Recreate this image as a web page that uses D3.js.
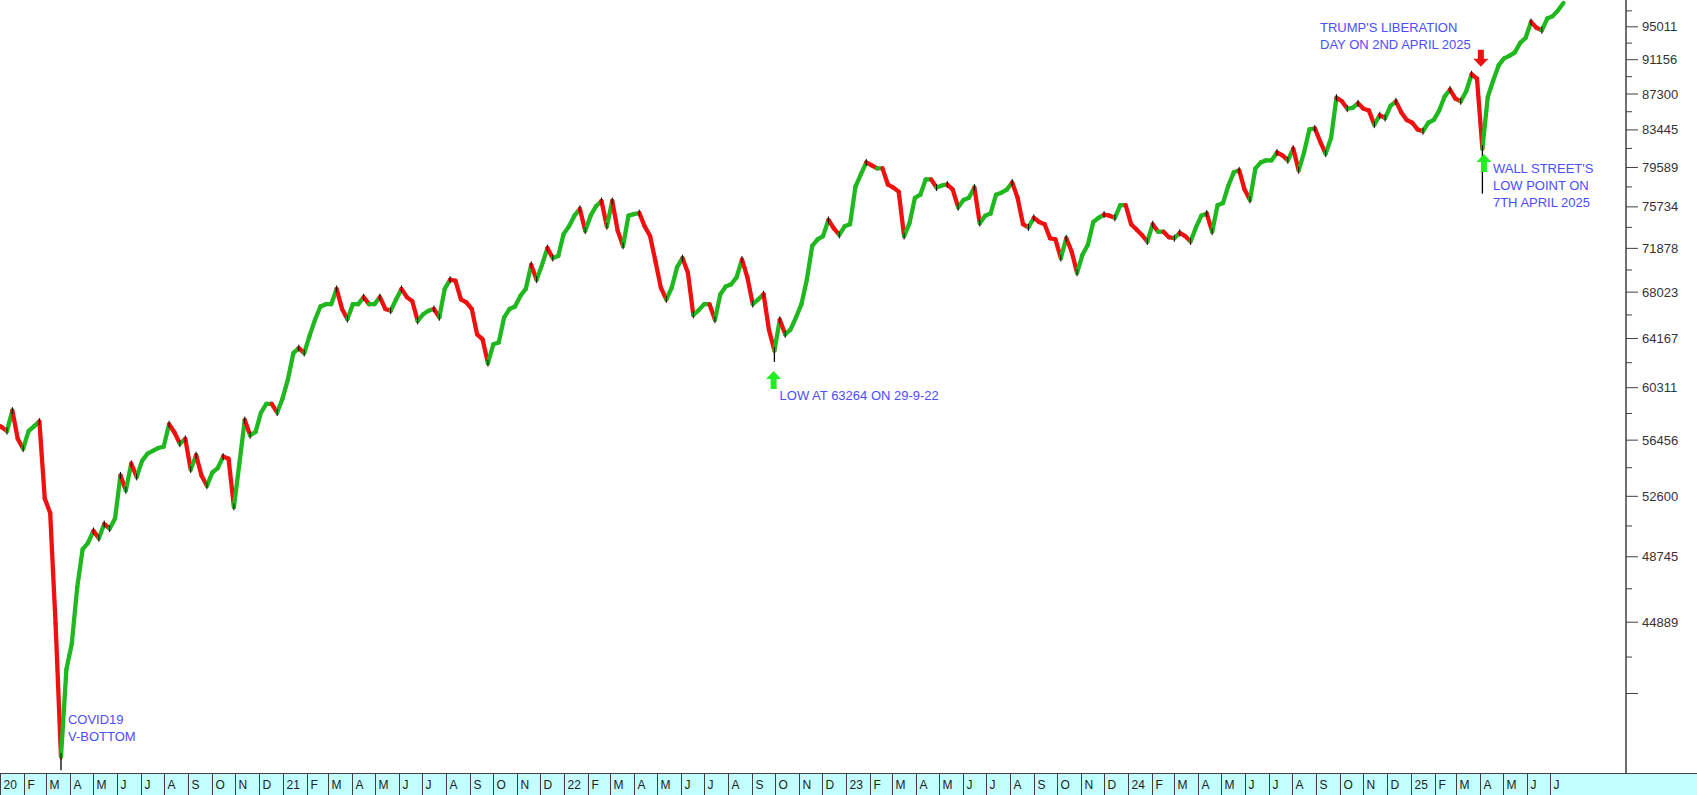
<!DOCTYPE html>
<html><head><meta charset="utf-8">
<script src="https://cdn.jsdelivr.net/npm/d3@7"></script>
<style>
html,body{margin:0;padding:0;background:#fff;overflow:hidden}
svg{display:block}
text{font-family:"Liberation Sans",Arial,sans-serif}
</style></head><body>
<svg id="chart" width="1697" height="795"></svg>
<script>
// ---------- DATA (weekly closes, week ending Friday) ----------
const firstWeek = "2020-01-03";
const firstOpen = 57600;
const closes2020 = [57400,57100,58600,56550,55850,57100,57450,57800,52450,51500,44800,37900,42300,43700,46900,49200,49600,50360,49900,50800,50500,51150,54000,53000,54800,53900,55000,55500,55700,55900,56000,57600,57000,56200,56550,54400,55400,54000,53300,54200,54500,55300,55150,51900,54800,57900,56800,57050,58450,59100,59100,58450,59500];
const closes2021 = [60970,63000,63400,63000,64400,65700,66800,67000,67000,68300,66600,65750,67000,67000,67600,67000,67000,67600,66600,66450,67400,68300,67600,67250,65600,66150,66450,66600,65900,68300,69100,69000,67400,67150,66600,64500,64100,62200,63700,63850,65900,66600,66800,67700,68300,70400,69100,70400,71900,71000,71200,73200];
const closes2022 = [73900,74900,75550,73500,74900,75800,76300,73900,76300,73500,72100,74900,75050,75150,73900,73000,70700,68400,67400,68400,70200,71000,69700,66100,66500,67000,67000,65700,67850,68500,68700,69300,70880,69300,67000,67400,67850,64850,63200,65700,64500,64900,65900,67000,69100,72100,72700,73000,74500,73700,73100,73900];
const closes2023 = [74100,77700,78900,80100,79800,79500,79500,77900,77600,77200,73000,74200,76600,76900,78400,78400,77600,77800,77900,77400,75700,76400,76600,77600,74200,74900,75100,76900,77100,77400,78100,76600,74100,73800,74700,74300,74100,72800,72700,71000,72800,71600,69700,71300,72200,74300,74700,75000,74900,74700,75900,75900];
const closes2024 = [74100,73600,73100,72500,74100,73400,73400,72900,72800,73300,73000,72500,73800,74900,75100,73400,75900,76100,77800,79100,79300,77400,76400,79500,80100,80300,80300,81100,80800,80300,81500,79300,81100,83500,83600,82200,81000,82600,86900,86500,85700,85800,86300,85700,85500,84000,85000,84700,86000,86500,85300,84500];
const closes2025 = [84200,83500,83300,84200,84500,85500,87000,87800,86800,86500,87600,89500,89000,81500,87000,88800,90500,91300,91600,92000,93100,93700,95600,94900,94600,96000,96300,97000,97900];
const spikeWeeks = [11, 143, 274];
const spikeLows  = [37250, 62300, 77000];

const yTickValues = [95011,91156,87300,83445,79589,75734,71878,68023,64167,60311,56456,52600,48745,44889,41034];
const yTickLabels = ["95011","91156","87300","83445","79589","75734","71878","68023","64167","60311","56456","52600","48745","44889",""];
const yMinorTicks = [96939,93083,89228,85372,81517,77661,73806,69950,66095,62239,58383,54528,50672,46817,42961];
const monthLetters = ["J","F","M","A","M","J","J","A","S","O","N","D"];

// ---------- LAYOUT ----------
const W = 1697, H = 795, plotRight = 1626, bandTop = 773;
const svg = d3.select("#chart");
const parse = d3.timeParse("%Y-%m-%d");

const x = d3.scaleTime().domain([new Date(2020,0,1), new Date(2025,9,7)]).range([0, plotRight]);
const y = d3.scaleLog().domain([95011, 44889]).range([26.8, 622.2]);

const closes = [].concat(closes2020, closes2021, closes2022, closes2023, closes2024, closes2025);
const start = parse(firstWeek);
const bars = closes.map((c, i) => {
  const fri = d3.timeDay.offset(start, 7 * i);
  return {i, date: fri, prevDate: d3.timeDay.offset(fri, -7), open: i === 0 ? firstOpen : closes[i-1], close: c};
});

// ---------- BARS (weekly moves drawn as thick up/down strokes) ----------
const g = svg.append("g");
spikeWeeks.forEach((wk, k) => {
  const b = bars[wk];
  g.append("line")
    .attr("x1", x(b.date)).attr("x2", x(b.date))
    .attr("y1", y(b.close)).attr("y2", y(spikeLows[k]))
    .attr("stroke", "#000").attr("stroke-width", 1.3);
});
g.selectAll("line.bar").data(bars).join("line")
  .attr("class", "bar")
  .attr("x1", d => x(d.prevDate)).attr("y1", d => y(d.open))
  .attr("x2", d => x(d.date)).attr("y2", d => y(d.close))
  .attr("stroke", d => d.close >= d.open ? "#1fb81f" : "#f01010")
  .attr("stroke-width", 4.3)
  .attr("stroke-linecap", "round");
// dark edge marks at the weekly turning points
g.selectAll("line.tick").data(bars.filter((d, i) => i > 0 && i < bars.length - 1 &&
    ((d.close - d.open) * (closes[i+1] - d.close) < 0)))
  .join("line")
  .attr("x1", d => x(d.date)).attr("x2", d => x(d.date))
  .attr("y1", d => y(d.close) - 3.5).attr("y2", d => y(d.close) + 3.5)
  .attr("stroke", "#111").attr("stroke-width", 1);

// ---------- Y AXIS ----------
svg.append("line").attr("x1", plotRight).attr("x2", plotRight).attr("y1", 0).attr("y2", bandTop)
  .attr("stroke", "#404040").attr("stroke-width", 1.5);
yTickValues.forEach((v, k) => {
  svg.append("line").attr("x1", plotRight).attr("x2", plotRight + 12)
    .attr("y1", y(v)).attr("y2", y(v)).attr("stroke", "#404040").attr("stroke-width", 1);
  svg.append("text").attr("x", plotRight + 16).attr("y", y(v)).attr("dy", "0.35em")
    .attr("font-size", 13).attr("fill", "#333").text(yTickLabels[k]);
});
yMinorTicks.forEach(v => {
  svg.append("line").attr("x1", plotRight).attr("x2", plotRight + 6)
    .attr("y1", y(v)).attr("y2", y(v)).attr("stroke", "#404040").attr("stroke-width", 1);
});

// ---------- DATE BAND ----------
svg.append("rect").attr("x", 0).attr("y", bandTop).attr("width", W).attr("height", H - bandTop)
  .attr("fill", "#c4ffff");
svg.append("line").attr("x1", 0).attr("x2", W).attr("y1", bandTop + 0.5).attr("y2", bandTop + 0.5)
  .attr("stroke", "#404040").attr("stroke-width", 1);
const months = d3.timeMonth.range(new Date(2020,0,1), new Date(2025,7,1));
months.forEach(m => {
  const xm = Math.round(x(m)) + 0.5;
  svg.append("line").attr("x1", xm).attr("x2", xm).attr("y1", bandTop).attr("y2", H)
    .attr("stroke", "#404040").attr("stroke-width", 1);
  const lab = m.getMonth() === 0 ? d3.timeFormat("%y")(m) : monthLetters[m.getMonth()];
  svg.append("text").attr("x", xm + 3).attr("y", 789).attr("font-size", 12).attr("fill", "#222").text(lab);
});

// ---------- ANNOTATIONS ----------
const blue = "#4d4dff";
function upArrow(cx, tipY, color) {
  const p = `M${cx},${tipY} L${cx+7.5},${tipY+8} L${cx+3},${tipY+8} L${cx+3},${tipY+18} L${cx-3},${tipY+18} L${cx-3},${tipY+8} L${cx-7.5},${tipY+8} Z`;
  svg.append("path").attr("d", p).attr("fill", color);
}
function downArrow(cx, tipY, color) {
  const p = `M${cx},${tipY} L${cx+7.5},${tipY-8} L${cx+3},${tipY-8} L${cx+3},${tipY-17} L${cx-3},${tipY-17} L${cx-3},${tipY-8} L${cx-7.5},${tipY-8} Z`;
  svg.append("path").attr("d", p).attr("fill", color);
}
function label(lines, x0, y0, lh) {
  lines.forEach((t, k) => svg.append("text").attr("x", x0).attr("y", y0 + k * lh)
    .attr("font-size", 13).attr("fill", blue).text(t));
}
label(["COVID19", "V-BOTTOM"], x(new Date(2020,2,29)), 724, 17);
const lowX = x(new Date(2022,8,29));
upArrow(lowX, y(spikeLows[1]) + 9, "#22ee22");
label(["LOW AT 63264 ON 29-9-22"], lowX + 6, 400, 17);
const libX = x(new Date(2025,3,2));
downArrow(libX, y(89000) - 12, "#ee1111");
label(["TRUMP'S LIBERATION", "DAY ON 2ND APRIL 2025"], 1320, 32, 17);
const wsX = x(new Date(2025,3,6));
upArrow(wsX, 154, "#22ee22");
label(["WALL STREET'S", "LOW POINT ON", "7TH APRIL 2025"], wsX + 9, 173, 17);
</script>
</body></html>
